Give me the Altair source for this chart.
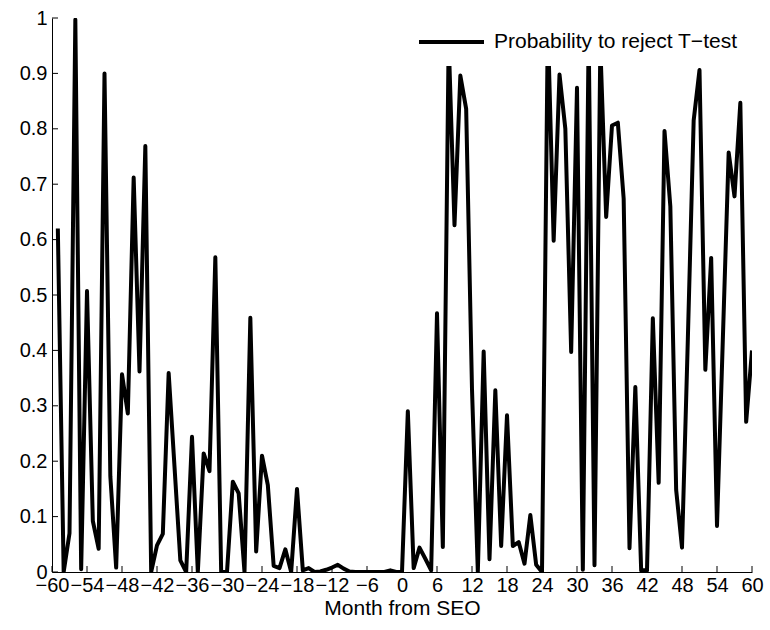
import altair as alt
import pandas as pd

# ---- data ----
months = list(range(-59, 61))
prob = [
    0.62, 0.0, 0.07, 0.997, 0.005, 0.507, 0.092, 0.042, 0.90, 0.173,   # -59..-50
    0.008, 0.357, 0.286, 0.712, 0.362, 0.769, 0.0, 0.048, 0.069, 0.359,  # -49..-40
    0.19, 0.021, 0.0, 0.244, 0.0, 0.214, 0.182, 0.568, 0.0, 0.0,         # -39..-30
    0.163, 0.142, 0.0, 0.459, 0.037, 0.21, 0.157, 0.011, 0.007, 0.041,   # -29..-20
    0.0, 0.15, 0.003, 0.007, 0.0, 0.001, 0.004, 0.008, 0.013, 0.006,     # -19..-10
    0.001, 0.0, 0.0, 0.0, 0.0, 0.0, 0.0, 0.003, 0.0, 0.0,                # -9..0
    0.29, 0.007, 0.044, 0.024, 0.003, 0.467, 0.045, 0.96, 0.626, 0.896,  # 1..10
    0.836, 0.33, 0.0, 0.398, 0.023, 0.328, 0.047, 0.283, 0.047, 0.054,   # 11..20
    0.015, 0.103, 0.013, 0.0, 0.99, 0.598, 0.898, 0.80, 0.397, 0.874,    # 21..30
    0.004, 0.97, 0.012, 0.95, 0.641, 0.806, 0.811, 0.674, 0.043, 0.334,  # 31..40
    0.003, 0.003, 0.458, 0.161, 0.796, 0.66, 0.148, 0.044, 0.42, 0.815,  # 41..50
    0.906, 0.365, 0.567, 0.083, 0.42, 0.757, 0.678, 0.847, 0.271, 0.40,  # 51..60
]
series_name = "Probability to reject T\u2212test"
x_tick_values = list(range(-60, 61, 6))
y_tick_values = [0, 0.1, 0.2, 0.3, 0.4, 0.5, 0.6, 0.7, 0.8, 0.9, 1]

df = pd.DataFrame({"month": months, "prob": prob, "series": series_name})
xt_df = pd.DataFrame({"month": x_tick_values})
yt_df = pd.DataFrame({"prob": y_tick_values})

W, H = 700, 554
FONT = "Liberation Sans"

x_enc = alt.X(
    "month:Q",
    scale=alt.Scale(domain=[-60, 60], nice=False, zero=False),
    axis=alt.Axis(
        values=x_tick_values, format="d", title="Month from SEO",
        ticks=False, tickSize=0, grid=False, labelFlush=False, labelOverlap=False,
        labelPadding=3, labelFontSize=20, labelFont=FONT, labelColor="black",
        titleFontSize=21, titleFont=FONT, titleColor="black", titleFontWeight="normal",
        titlePadding=2, domainColor="black", domainWidth=1,
    ),
)
y_enc = alt.Y(
    "prob:Q",
    scale=alt.Scale(domain=[0, 1], nice=False),
    axis=alt.Axis(
        values=y_tick_values, format="~g", title=None,
        ticks=False, tickSize=0, grid=False, labelOverlap=False, labelFlush=False,
        labelPadding=5, labelFontSize=20, labelFont=FONT, labelColor="black",
        domainColor="black", domainWidth=1,
    ),
)

line = alt.Chart(df).mark_line(strokeWidth=4, strokeJoin="round", clip=True).encode(
    x=x_enc,
    y=y_enc,
    color=alt.Color(
        "series:N",
        scale=alt.Scale(range=["black"]),
        legend=alt.Legend(
            title=None, orient="none", legendX=351, legendY=0, padding=14,
            fillColor="white", symbolType="stroke", symbolSize=4225,
            symbolStrokeWidth=4, symbolStrokeColor="black", clipHeight=20,
            labelFontSize=21, labelFont=FONT, labelColor="black", labelOffset=8,
            labelLimit=400,
        ),
    ),
)

x_ticks = alt.Chart(xt_df).mark_rule(color="black", strokeWidth=1).encode(
    x=x_enc, y=alt.value(H), y2=alt.value(H - 6)
)
y_ticks = alt.Chart(yt_df).mark_rule(color="black", strokeWidth=1).encode(
    y=y_enc, x=alt.value(0), x2=alt.value(6)
)

chart = (
    alt.layer(x_ticks, y_ticks, line)
    .properties(
        width=W, height=H, autosize="none",
        padding={"left": 52, "top": 18, "right": 18, "bottom": 58},
        background="white",
    )
    .configure_view(strokeWidth=0)
)

chart.save("out.html", embed_options={"renderer": "svg", "actions": False})
